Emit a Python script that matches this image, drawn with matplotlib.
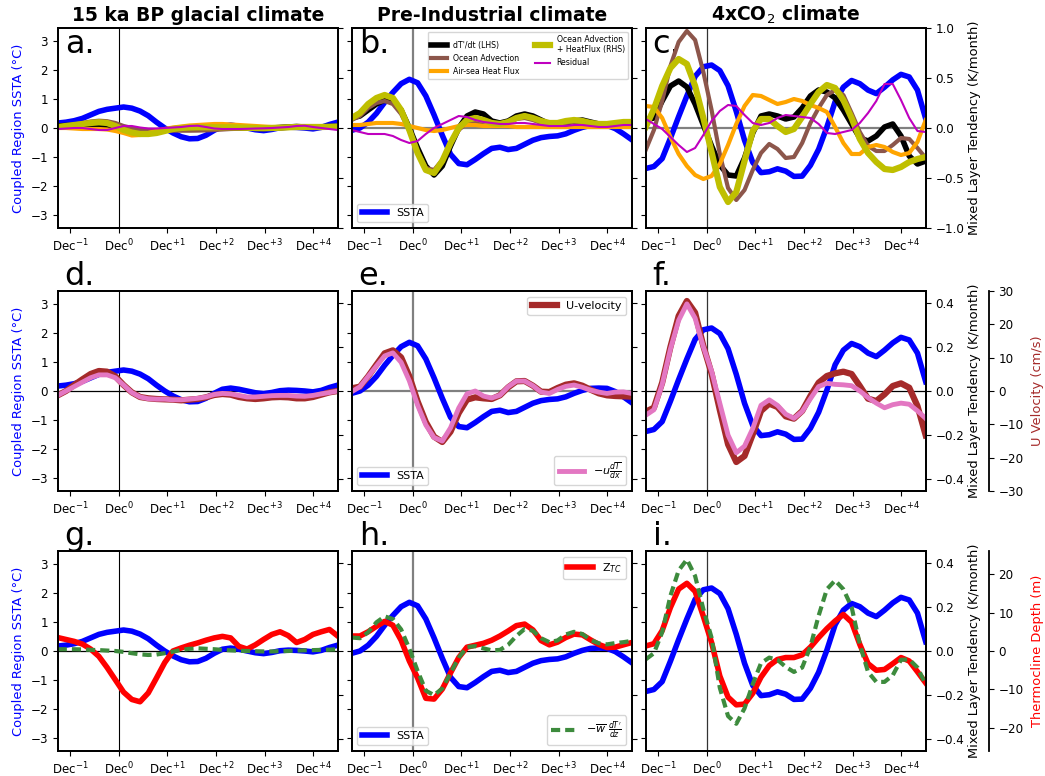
import numpy as np
import matplotlib
matplotlib.use("Agg")
import matplotlib.pyplot as plt

plt.rcParams['font.family'] = ['DejaVu Sans']
plt.rcParams['font.size'] = 8.6
plt.rcParams['axes.labelsize'] = 9.4
plt.rcParams['axes.linewidth'] = 1.3
plt.rcParams['mathtext.fontset'] = 'dejavusans'

# Composite time axis (months relative to December of year 0)
months = np.linspace(-15, 54, 35)
tick_months = [-12, 0, 12, 24, 36, 48]
tick_labels = [r'Dec$^{-1}$', r'Dec$^{0}$', r'Dec$^{+1}$', r'Dec$^{+2}$', r'Dec$^{+3}$', r'Dec$^{+4}$']
climate_titles = ['15 ka BP glacial climate', 'Pre-Industrial climate', r'4xCO$_2$ climate']
panel_letters = ['a.', 'b.', 'c.', 'd.', 'e.', 'f.', 'g.', 'h.', 'i.']

# SSTA in the coupled region (degC)
ssta_glacial = [0.17, 0.20, 0.25, 0.33, 0.45, 0.57, 0.64, 0.68, 0.72, 0.68, 0.58, 0.42, 0.20, 0.00, -0.17,
                -0.30, -0.37, -0.36, -0.25, -0.08, 0.06, 0.10, 0.06, 0.00, -0.06, -0.09, -0.05, 0.01, 0.03,
                0.02, 0.00, -0.03, 0.02, 0.12, 0.20]
ssta_pi = [-0.08, 0.00, 0.20, 0.50, 0.88, 1.22, 1.52, 1.67, 1.55, 1.10, 0.45, -0.25, -0.90, -1.22, -1.26,
           -1.08, -0.88, -0.70, -0.66, -0.74, -0.70, -0.56, -0.42, -0.33, -0.29, -0.27, -0.20, -0.08, 0.02,
           0.09, 0.10, 0.09, -0.02, -0.20, -0.40]
ssta_4x = [-1.39, -1.32, -1.05, -0.35, 0.39, 1.10, 1.77, 2.10, 2.16, 1.97, 1.45, 0.57, -0.42, -1.18, -1.53,
           -1.50, -1.40, -1.48, -1.66, -1.65, -1.28, -0.73, 0.03, 0.90, 1.40, 1.63, 1.52, 1.30, 1.18, 1.40,
           1.65, 1.84, 1.75, 1.30, 0.32]

# Mixed layer heat budget terms (K/month)
dtdt_glacial = [0.02, 0.025, 0.025, 0.02, 0.02, 0.02, 0.015, 0.01, -0.01, -0.025, -0.035, -0.04, -0.03, -0.02,
                -0.01, 0.0, 0.0, 0.0, 0.0, 0.005, 0.005, 0.005, 0.0, 0.0, -0.003, -0.005, 0.0, 0.005, 0.01,
                0.015, 0.01, 0.01, 0.012, 0.015, 0.015]
adv_glacial = [0.015, 0.025, 0.035, 0.05, 0.065, 0.073, 0.068, 0.05, 0.02, 0.0, -0.015, -0.02, -0.022, -0.024,
               -0.026, -0.027, -0.027, -0.026, -0.024, -0.02, -0.015, -0.01, -0.008, -0.008, -0.01, -0.01,
               -0.008, -0.005, 0.0, 0.005, 0.008, 0.01, 0.01, 0.012, 0.015]
hflx_glacial = [0.0, 0.0, -0.005, -0.01, -0.01, -0.01, -0.015, -0.03, -0.05, -0.075, -0.07, -0.05, -0.03, -0.01,
                0.005, 0.015, 0.025, 0.03, 0.035, 0.04, 0.04, 0.035, 0.03, 0.025, 0.02, 0.015, 0.01, 0.01, 0.01,
                0.01, 0.01, 0.008, 0.005, 0.003, 0.0]
advhf_glacial = [0.01, 0.02, 0.03, 0.04, 0.05, 0.057, 0.05, 0.02, -0.02, -0.045, -0.06, -0.06, -0.05, -0.03,
                 -0.01, 0.0, 0.005, 0.007, 0.007, 0.007, 0.007, 0.007, 0.005, 0.003, 0.0, -0.002, 0.0, 0.003,
                 0.007, 0.01, 0.01, 0.01, 0.01, 0.012, 0.015]
resid_glacial = [-0.01, -0.005, 0.0, 0.0, -0.01, -0.02, -0.02, 0.0, 0.02, 0.02, 0.005, -0.005, -0.005, 0.0,
                 0.005, 0.01, 0.02, 0.023, 0.01, -0.005, -0.01, -0.01, -0.01, -0.008, -0.005, -0.003, 0.0,
                 0.005, 0.01, 0.02, 0.023, 0.01, 0.0, -0.01, -0.02]

dtdt_pi = [0.10, 0.12, 0.18, 0.24, 0.28, 0.26, 0.18, 0.00, -0.20, -0.38, -0.47, -0.38, -0.18, 0.00, 0.12, 0.16,
           0.14, 0.07, 0.05, 0.07, 0.12, 0.14, 0.12, 0.08, 0.04, 0.03, 0.05, 0.07, 0.08, 0.06, 0.04, 0.03, 0.04,
           0.05, 0.05]
adv_pi = [0.08, 0.12, 0.20, 0.25, 0.27, 0.24, 0.14, -0.03, -0.24, -0.40, -0.42, -0.32, -0.15, -0.02, 0.05, 0.06,
          0.04, 0.02, 0.02, 0.05, 0.09, 0.10, 0.08, 0.05, 0.03, 0.03, 0.05, 0.06, 0.05, 0.03, 0.03, 0.03, 0.04,
          0.05, 0.05]
hflx_pi = [0.03, 0.03, 0.04, 0.05, 0.05, 0.05, 0.04, 0.02, 0.00, -0.02, -0.03, -0.02, 0.00, 0.02, 0.03, 0.03,
           0.02, 0.02, 0.02, 0.02, 0.01, 0.01, 0.01, 0.01, 0.01, 0.01, 0.01, 0.01, 0.01, 0.01, 0.01, 0.01, 0.01,
           0.01, 0.01]
advhf_pi = [0.10, 0.15, 0.24, 0.30, 0.33, 0.30, 0.18, -0.02, -0.25, -0.42, -0.45, -0.33, -0.15, 0.00, 0.08, 0.10,
            0.08, 0.05, 0.04, 0.06, 0.10, 0.12, 0.10, 0.07, 0.05, 0.05, 0.07, 0.08, 0.07, 0.05, 0.04, 0.04, 0.05,
            0.06, 0.06]
resid_pi = [-0.02, -0.04, -0.06, -0.06, -0.06, -0.08, -0.12, -0.15, -0.13, -0.06, 0.00, 0.04, 0.08, 0.12, 0.11,
            0.08, 0.06, 0.05, 0.04, 0.04, 0.05, 0.05, 0.04, 0.03, 0.02, 0.02, 0.02, 0.03, 0.03, 0.02, 0.01, 0.01,
            0.02, 0.03, 0.03]

dtdt_4x = [0.08, 0.10, 0.27, 0.42, 0.47, 0.41, 0.24, 0.03, -0.18, -0.37, -0.47, -0.48, -0.30, -0.05, 0.12, 0.14,
           0.12, 0.09, 0.11, 0.20, 0.32, 0.38, 0.36, 0.30, 0.18, 0.04, -0.10, -0.13, -0.08, 0.01, 0.04, -0.08,
           -0.28, -0.36, -0.33]
adv_4x = [-0.22, -0.02, 0.27, 0.62, 0.86, 0.97, 0.88, 0.56, 0.18, -0.26, -0.60, -0.72, -0.62, -0.42, -0.25,
          -0.16, -0.21, -0.30, -0.29, -0.15, 0.05, 0.20, 0.33, 0.38, 0.33, 0.15, -0.04, -0.18, -0.23, -0.23,
          -0.17, -0.10, -0.11, -0.20, -0.30]
hflx_4x = [0.22, 0.21, 0.10, -0.09, -0.26, -0.38, -0.47, -0.51, -0.48, -0.36, -0.17, 0.04, 0.22, 0.33, 0.32,
           0.28, 0.24, 0.26, 0.29, 0.27, 0.23, 0.20, 0.16, 0.01, -0.15, -0.26, -0.26, -0.19, -0.17, -0.19, -0.24,
           -0.27, -0.25, -0.14, 0.08]
advhf_4x = [0.01, 0.19, 0.42, 0.60, 0.69, 0.64, 0.42, 0.10, -0.24, -0.59, -0.74, -0.64, -0.33, -0.03, 0.09,
            0.09, 0.02, -0.04, -0.01, 0.11, 0.24, 0.36, 0.43, 0.40, 0.28, 0.10, -0.11, -0.25, -0.34, -0.41, -0.42,
            -0.39, -0.34, -0.31, -0.29]
resid_4x = [0.09, 0.04, -0.01, -0.09, -0.17, -0.24, -0.20, -0.07, 0.07, 0.17, 0.23, 0.22, 0.13, 0.05, 0.03, 0.05,
            0.10, 0.13, 0.12, 0.11, 0.10, 0.04, -0.05, -0.06, -0.04, -0.02, 0.05, 0.15, 0.27, 0.44, 0.44, 0.28,
            0.10, -0.03, -0.04]

# Zonal velocity (cm/s) and zonal advection -u dT/dx (K/month)
uvel_glacial = [-1.3, 0.0, 1.8, 3.5, 5.1, 6.0, 5.8, 4.4, 1.8, -0.4, -1.8, -2.2, -2.4, -2.5, -2.6, -2.8, -2.6,
                -2.4, -1.9, -1.2, -0.9, -1.1, -1.8, -2.2, -2.4, -2.2, -1.9, -1.8, -1.9, -2.2, -2.2, -1.8, -1.1,
                -0.4, 0.0]
uadv_glacial = [-0.02, 0.0, 0.02, 0.04, 0.06, 0.073, 0.073, 0.06, 0.027, -0.007, -0.027, -0.035, -0.037, -0.037,
                -0.04, -0.04, -0.037, -0.033, -0.027, -0.016, -0.011, -0.013, -0.02, -0.027, -0.027, -0.024,
                -0.021, -0.02, -0.02, -0.023, -0.024, -0.02, -0.013, -0.007, 0.0]
uvel_pi = [0.8, 1.3, 4.4, 7.9, 11.3, 12.2, 10.1, 4.4, -3.1, -9.3, -13.7, -15.3, -12.2, -6.6, -2.6, -1.9, -2.2,
           -2.4, -1.3, 1.1, 2.9, 3.0, 1.6, -0.2, -0.3, 0.9, 1.9, 2.3, 1.6, 0.4, -0.7, -1.3, -1.5, -1.6, -1.7]
uadv_pi = [-0.003, 0.019, 0.066, 0.113, 0.159, 0.173, 0.13, 0.046, -0.064, -0.154, -0.211, -0.227, -0.167,
           -0.077, -0.013, 0.0, -0.023, -0.032, -0.019, 0.019, 0.045, 0.045, 0.024, -0.005, -0.011, 0.007, 0.021,
           0.027, 0.017, 0.004, -0.005, -0.011, -0.005, -0.004, -0.011]
uvel_4x = [-6.2, -5.0, 2.5, 13.2, 22.5, 27.0, 23.5, 13.5, 5.2, -5.7, -16.0, -21.3, -19.5, -13.0, -6.0, -3.8,
           -4.8, -7.6, -8.3, -6.0, -1.5, 2.5, 4.5, 5.3, 5.8, 5.1, 1.5, -2.3, -3.0, -1.0, 1.5, 2.3, 1.0, -4.5,
           -13.3]
uadv_4x = [-0.11, -0.085, 0.03, 0.19, 0.32, 0.395, 0.33, 0.2, 0.09, -0.056, -0.2, -0.28, -0.25, -0.17, -0.065,
           -0.04, -0.065, -0.105, -0.124, -0.093, -0.035, 0.02, 0.035, 0.03, 0.028, 0.024, 0.0, -0.03, -0.055,
           -0.076, -0.062, -0.055, -0.06, -0.09, -0.124]

# Thermocline depth anomaly (m) and vertical advection -w dT'/dz (K/month)
ztc_glacial = [3.5, 3.0, 2.5, 1.8, 0.5, -1.4, -4.3, -7.5, -10.7, -12.6, -13.2, -10.9, -7.0, -3.0, 0.0, 0.8, 1.5,
               2.1, 2.8, 3.4, 3.8, 3.4, 1.2, 0.5, 1.6, 3.0, 4.3, 5.0, 4.0, 2.2, 3.0, 4.3, 5.0, 5.6, 3.9]
wadv_glacial = [0.008, 0.008, 0.008, 0.007, 0.005, 0.004, 0.002, 0.0, -0.004, -0.01, -0.015, -0.018, -0.016,
                -0.01, -0.003, 0.005, 0.01, 0.012, 0.01, 0.008, 0.005, 0.003, 0.001, 0.0, -0.001, -0.002, -0.002,
                -0.001, 0.0, 0.002, 0.003, 0.004, 0.005, 0.006, 0.008]
ztc_pi = [3.9, 3.9, 5.0, 6.4, 7.7, 6.7, 2.8, -2.6, -7.0, -12.3, -12.5, -9.9, -5.7, -1.7, 1.0, 1.5, 2.0, 2.8,
          3.9, 5.2, 6.6, 7.0, 5.5, 2.7, 1.6, 2.3, 3.5, 4.4, 4.2, 2.9, 1.7, 0.9, 1.0, 1.6, 2.2]
wadv_pi = [0.061, 0.058, 0.085, 0.13, 0.157, 0.145, 0.098, 0.01, -0.09, -0.18, -0.2, -0.17, -0.1, -0.03, 0.018,
           0.022, 0.012, 0.003, 0.005, 0.028, 0.068, 0.1, 0.092, 0.058, 0.04, 0.048, 0.075, 0.087, 0.077, 0.05,
           0.035, 0.03, 0.036, 0.04, 0.046]
ztc_4x = [1.3, 1.9, 5.3, 11.3, 16.1, 17.6, 15.5, 9.0, 2.2, -6.5, -12.0, -14.0, -13.8, -11.0, -6.8, -3.8, -2.2,
          -1.7, -1.7, -1.0, 1.0, 3.5, 5.8, 7.8, 9.5, 7.5, 1.7, -3.3, -5.0, -4.8, -3.3, -1.7, -2.6, -5.4, -8.3]
wadv_4x = [-0.038, -0.01, 0.085, 0.25, 0.365, 0.415, 0.34, 0.19, 0.06, -0.167, -0.295, -0.33, -0.26, -0.15,
           -0.055, -0.03, -0.04, -0.072, -0.095, -0.075, 0.02, 0.16, 0.28, 0.32, 0.28, 0.2, 0.03, -0.095, -0.14,
           -0.14, -0.11, -0.04, -0.038, -0.075, -0.152]

ssta_cols = [ssta_glacial, ssta_pi, ssta_4x]
budget_cols = [(dtdt_glacial, adv_glacial, hflx_glacial, advhf_glacial, resid_glacial),
               (dtdt_pi, adv_pi, hflx_pi, advhf_pi, resid_pi),
               (dtdt_4x, adv_4x, hflx_4x, advhf_4x, resid_4x)]
uvel_cols = [uvel_glacial, uvel_pi, uvel_4x]
uadv_cols = [uadv_glacial, uadv_pi, uadv_4x]
ztc_cols = [ztc_glacial, ztc_pi, ztc_4x]
wadv_cols = [wadv_glacial, wadv_pi, wadv_4x]

budget_labels = ["dT'/dt (LHS)", 'Ocean Advection', 'Air-sea Heat Flux',
                 'Ocean Advection\n+ HeatFlux (RHS)', 'Residual']
budget_colors = ['k', 'tab:brown', 'orange', 'y', 'm']
budget_widths = [4, 3, 3, 4.5, 1.5]

FW, FH = 1045, 776
col_left = [57.7, 351.7, 645.7]
row_top = [28, 291, 551]
AW, AH = 280, 200

fig = plt.figure(figsize=(FW / 100, FH / 100), dpi=100)

ssta_lim = 3.43
tend_lim = [1.0, 0.4533, 0.4533]
tend_ticks = [[-1.0, -0.5, 0.0, 0.5, 1.0], [-0.4, -0.2, 0.0, 0.2, 0.4], [-0.4, -0.2, 0.0, 0.2, 0.4]]

for row in range(3):
    for col in range(3):
        rect = [col_left[col] / FW, 1 - (row_top[row] + AH) / FH, AW / FW, AH / FH]
        ax = fig.add_axes(rect)
        ax.set_xlim(-15, 54)
        ax.set_ylim(-ssta_lim, ssta_lim)
        ax.set_yticks([-3, -2, -1, 0, 1, 2, 3])
        ax.set_xticks(tick_months)
        ax.set_xticklabels(tick_labels)

        vcol, vlw = [('k', 0.8), ('gray', 1.6), ('#333333', 0.9)][col]
        ax.axvline(0, color=vcol, lw=vlw, zorder=1)
        if (row == 0 and col > 0) or (row == 1 and col == 1):
            ax.axhline(0, color='gray', lw=1.6, zorder=1)
        else:
            ax.axhline(0, color='k', lw=0.9, zorder=1)

        ssta_line, = ax.plot(months, ssta_cols[col], color='b', lw=4, label='SSTA', zorder=3)

        if col == 0:
            ax.set_ylabel('Coupled Region SSTA (°C)', color='b')
        else:
            ax.tick_params(labelleft=False)
        if row == 0:
            ax.set_title(climate_titles[col], fontweight='bold', fontsize=13.5, pad=5)

        ypos = 0.875 if row == 0 else 1.03
        ax.text(0.025, ypos, panel_letters[row * 3 + col], transform=ax.transAxes,
                fontsize=23, ha='left', va='baseline')

        ax3 = None
        if row > 0:
            ax3 = ax.twinx()
        ax2 = ax.twinx()
        ax2.set_ylim(-tend_lim[row], tend_lim[row])
        ax2.set_yticks(tend_ticks[row])
        ax2.spines['right'].set_linewidth(1.3)
        if col < 2:
            ax2.tick_params(labelright=False)
        else:
            ax2.set_ylabel('Mixed Layer Tendency (K/month)', labelpad=3)

        if row == 0:
            handles = []
            for series, lab, c, w in zip(budget_cols[col], budget_labels, budget_colors, budget_widths):
                h, = ax2.plot(months, series, color=c, lw=w, label=lab)
                handles.append(h)
            if col == 1:
                ax2.legend(handles=handles, loc='upper right', ncol=2, fontsize=5.6)
                ax.legend(handles=[ssta_line], loc='lower left', fontsize=8, handlelength=2.3)
        elif row == 1:
            ax3.set_ylim(-30, 30)
            ax3.set_yticks([-30, -20, -10, 0, 10, 20, 30])
            uline, = ax3.plot(months, uvel_cols[col], color='brown', lw=4.5, label='U-velocity')
            pline, = ax2.plot(months, uadv_cols[col], color='tab:pink', lw=3.5,
                              label=r'$-u\frac{d\overline{T}}{dx}$')
            if col == 1:
                ax3.legend(handles=[uline], loc='upper right', fontsize=8, handlelength=2.3)
                ax2.legend(handles=[pline], loc='lower right', fontsize=8, handlelength=2.3)
                ax.legend(handles=[ssta_line], loc='lower left', fontsize=8, handlelength=2.3)
        else:
            ax3.set_ylim(-26, 26)
            ax3.set_yticks([-20, -10, 0, 10, 20])
            zline, = ax3.plot(months, ztc_cols[col], color='r', lw=4, label=r'Z$_{TC}$')
            wline, = ax2.plot(months, wadv_cols[col], color='#3d8b3d', lw=3, ls=(0, (2.2, 1.2)),
                              label=r"$-\overline{w}\ \frac{dT'}{dz}$")
            if col == 1:
                ax3.legend(handles=[zline], loc='upper right', fontsize=8, handlelength=2.3)
                ax2.legend(handles=[wline], loc='lower right', fontsize=8, handlelength=2.3)
                ax.legend(handles=[ssta_line], loc='lower left', fontsize=8, handlelength=2.3)

        if ax3 is not None:
            if col < 2:
                ax3.axis('off')
            else:
                # offset third axis: 63 px to the right of the frame (points = px * 0.72)
                ax3.spines['right'].set_position(('outward', 45.4))
                for s in ['top', 'left', 'bottom']:
                    ax3.spines[s].set_visible(False)
                if row == 1:
                    ax3.set_ylabel('U Velocity (cm/s)', color='brown', labelpad=5)
                else:
                    ax3.set_ylabel('Thermocline Depth (m)', color='r', labelpad=5)

fig.savefig('out.png', dpi=100)
